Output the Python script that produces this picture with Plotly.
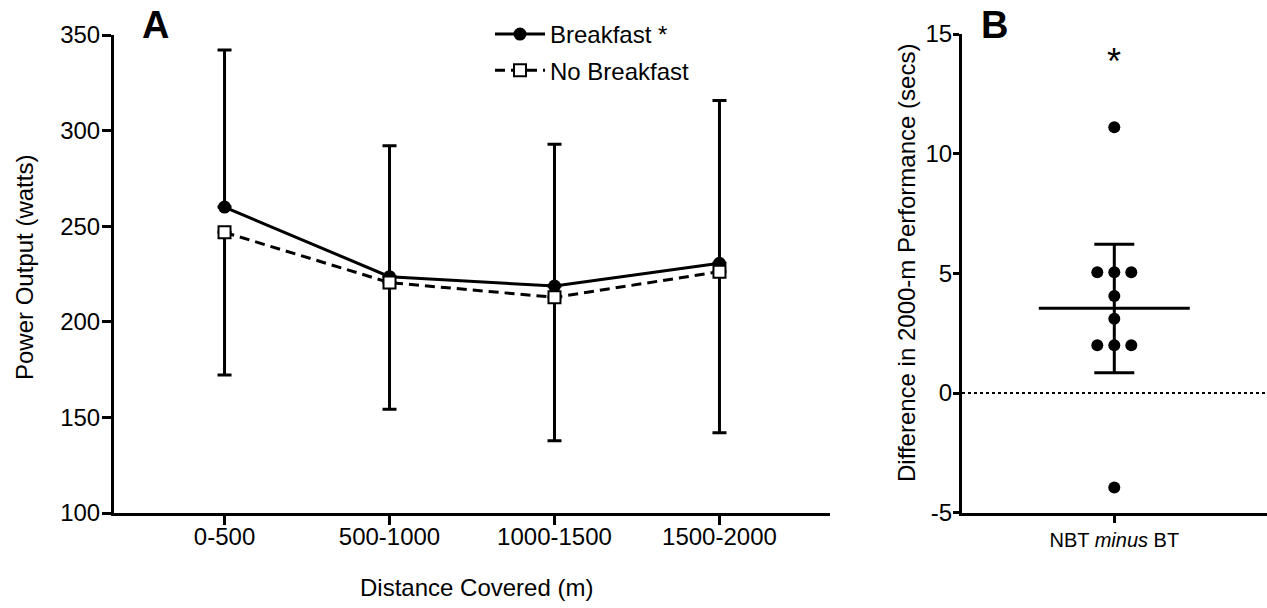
import plotly.graph_objects as go

# ---------------- data ----------------
categories = ["0-500", "500-1000", "1000-1500", "1500-2000"]
breakfast = [260.0, 223.6, 218.7, 230.6]
breakfast_upper = [342.2, 292.1, 292.8, 315.8]
no_breakfast = [246.8, 220.5, 212.8, 226.2]
no_breakfast_lower = [172.2, 154.2, 137.8, 142.0]

y_ticks_a = [100, 150, 200, 250, 300, 350]

diff_values = [11.1, 5.05, 5.05, 5.05, 4.05, 3.1, 2.0, 2.0, 2.0, -3.95]
diff_mean = 3.54
diff_ci_low = 0.85
diff_ci_high = 6.22
y_ticks_b = [-5, 0, 5, 10, 15]
y_ticktext_b = ["-5", "0", "5", "10", "15"]
b_category = "NBT <i>minus</i> BT"

# ---------------- geometry ----------------
W, H = 1267, 608
FONT = "Liberation Sans, Arial, sans-serif"


def px_x(p):
    return p / W


def px_y(p):
    return (H - p) / H


fig = go.Figure()

# Panel A
fig.add_trace(go.Scatter(
    x=categories, y=breakfast, name="Breakfast *",
    mode="lines+markers",
    line=dict(color="black", width=3),
    marker=dict(symbol="circle", size=13, color="black"),
    error_y=dict(type="data", symmetric=False,
                 array=[u - m for u, m in zip(breakfast_upper, breakfast)],
                 arrayminus=[0] * len(breakfast),
                 color="black", thickness=3, width=7),
    xaxis="x", yaxis="y", legendgroup="a",
))
fig.add_trace(go.Scatter(
    x=categories, y=no_breakfast, name="No Breakfast",
    mode="lines+markers",
    line=dict(color="black", width=3, dash="10px,6px"),
    marker=dict(symbol="square", size=12, color="white",
                line=dict(color="black", width=2)),
    error_y=dict(type="data", symmetric=False,
                 array=[0] * len(no_breakfast),
                 arrayminus=[m - l for m, l in zip(no_breakfast, no_breakfast_lower)],
                 color="black", thickness=3, width=7),
    xaxis="x", yaxis="y", legendgroup="b",
))

# Panel B: jittered points
offsets = []
seen = {}
counts = {v: diff_values.count(v) for v in diff_values}
JIT = 17
for v in diff_values:
    i = seen.get(v, 0)
    seen[v] = i + 1
    n = counts[v]
    offsets.append((i - (n - 1) / 2) * JIT)

fig.add_trace(go.Scatter(
    x=offsets, y=diff_values, mode="markers",
    marker=dict(size=12, color="black"),
    xaxis="x2", yaxis="y2", showlegend=False,
))
MEAN_HALF = 75.5
fig.add_trace(go.Scatter(
    x=[-MEAN_HALF, MEAN_HALF], y=[diff_mean, diff_mean], mode="lines",
    line=dict(color="black", width=3),
    xaxis="x2", yaxis="y2", showlegend=False,
))
fig.add_trace(go.Scatter(
    x=[0], y=[diff_mean], mode="markers",
    marker=dict(size=1, color="rgba(0,0,0,0)"),
    error_y=dict(type="data", symmetric=False,
                 array=[diff_ci_high - diff_mean],
                 arrayminus=[diff_mean - diff_ci_low],
                 color="black", thickness=3, width=20),
    xaxis="x2", yaxis="y2", showlegend=False,
))

# zero dotted line in panel B
fig.add_shape(type="line", xref="x2 domain", yref="y2", x0=0, x1=1, y0=0, y1=0,
              line=dict(color="black", width=2, dash="dot"), layer="below")

axis_common = dict(
    showline=True, linecolor="black", linewidth=3,
    ticks="outside", tickcolor="black", tickwidth=3,
    showgrid=False, zeroline=False, automargin=False,
    tickfont=dict(family=FONT, size=24, color="black"),
)

fig.update_layout(
    width=W, height=H,
    margin=dict(l=0, r=0, t=0, b=0, autoexpand=False),
    paper_bgcolor="white", plot_bgcolor="white",
    font=dict(family=FONT, color="black"),
    xaxis=dict(domain=[px_x(114), px_x(830)], anchor="y",
               type="category", range=[-0.67, 3.67], ticklen=9,
               ticklabelstandoff=-9, **axis_common),
    yaxis=dict(domain=[px_y(513), px_y(35)], anchor="x",
               range=[100, 350], tickvals=y_ticks_a, ticklen=9,
               ticklabelstandoff=-3, **axis_common),
    xaxis2=dict(domain=[px_x(962), 1.0], anchor="y2",
                range=[-152.3, 152.7], tickvals=[0], ticktext=[b_category],
                ticklen=7, **{k: v for k, v in axis_common.items() if k != "tickfont"},
                tickfont=dict(family=FONT, size=20, color="black")),
    yaxis2=dict(domain=[px_y(512.7), px_y(34)], anchor="x2",
                range=[-5, 15], tickvals=y_ticks_b, ticktext=y_ticktext_b,
                ticklen=6, ticklabelstandoff=-4, **axis_common),
    legend=dict(x=px_x(490), y=px_y(12), xanchor="left", yanchor="top",
                font=dict(family=FONT, size=24, color="black"),
                bgcolor="rgba(0,0,0,0)", traceorder="grouped",
                tracegroupgap=2, itemwidth=50),
    showlegend=True,
)

annotations = [
    dict(text="Power Output (watts)", x=px_x(24), y=px_y(268), xref="paper", yref="paper",
         textangle=-90, showarrow=False, font=dict(family=FONT, size=24, color="black"),
         xanchor="center", yanchor="middle"),
    dict(text="Distance Covered (m)", x=px_x(476), y=px_y(587), xref="paper", yref="paper",
         showarrow=False, font=dict(family=FONT, size=24, color="black"),
         xanchor="center", yanchor="middle"),
    dict(text="Difference in 2000-m Performance (secs)", x=px_x(906), y=px_y(263),
         xref="paper", yref="paper", textangle=-90, showarrow=False,
         font=dict(family=FONT, size=24, color="black"),
         xanchor="center", yanchor="middle"),
    dict(text="<b>A</b>", x=px_x(155), y=px_y(25), xref="paper", yref="paper",
         showarrow=False, font=dict(family=FONT, size=38, color="black"),
         xanchor="center", yanchor="middle"),
    dict(text="<b>B</b>", x=px_x(994), y=px_y(25), xref="paper", yref="paper",
         showarrow=False, font=dict(family=FONT, size=38, color="black"),
         xanchor="center", yanchor="middle"),
    dict(text="*", x=0, y=13.85, xref="x2", yref="y2", showarrow=False,
         font=dict(family=FONT, size=36, color="black"),
         xanchor="center", yanchor="middle"),
]
fig.update_layout(annotations=annotations)

fig.write_html("out.html")
